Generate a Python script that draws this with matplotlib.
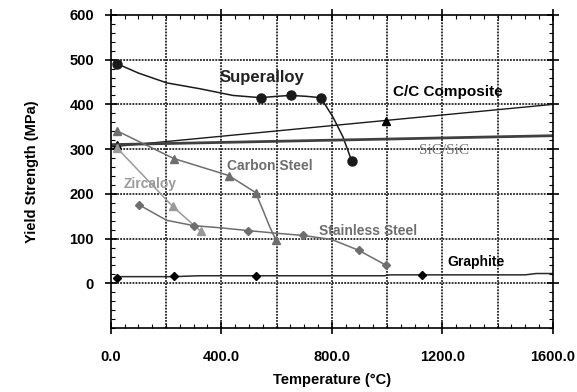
import numpy as np
import matplotlib.pyplot as plt
from matplotlib.ticker import MultipleLocator, FormatStrFormatter

plt.rcParams['font.family'] = ['Liberation Sans', 'DejaVu Sans']

# marker points (deg C, MPa)
sa_x = [22, 542, 651, 760, 872]
sa_y = [491, 415, 420, 415, 274]
# curve
sa_cx = [22, 100, 203, 322, 442, 542, 600, 651, 708, 760, 803, 840, 872]
sa_cy = [491, 470, 448, 435, 420, 415, 418, 420, 418, 415, 373, 328, 274]

cc_x = [0, 1600]
cc_y = [305, 400]
cc_mx = [22, 998]
cc_my = [310, 362]

sic_x = [0, 1600]
sic_y = [310, 330]

cs_x = [22, 228, 427, 524, 597]
cs_y = [341, 279, 241, 203, 98]
cs_cx = [22, 228, 427, 524, 550, 575, 597]
cs_cy = [341, 279, 241, 203, 165, 127, 98]

zr_x = [22, 224, 326]
zr_y = [303, 172, 116]

ss_x = [101, 300, 496, 697, 897, 998]
ss_y = [176, 129, 118, 107, 74, 40]
ss_cx = [101, 202, 300, 400, 496, 600, 697, 800, 897, 998]
ss_cy = [176, 141, 129, 124, 118, 112, 107, 98, 74, 40]

gr_x = [22, 228, 525, 1125]
gr_y = [13, 16, 16, 18]
gr_cx = [22, 228, 320, 525, 990, 1010, 1125, 1500, 1540, 1600]
gr_cy = [15, 15, 17, 17, 17, 19, 19, 19, 22, 22]

fig = plt.figure(figsize=(5.77, 3.92), dpi=100)
ax = fig.add_axes([0.192, 0.163, 0.766, 0.799])

dk = '#1a1a1a'
md = '#6e6e6e'
lt = '#9a9a9a'

ax.plot(sa_cx, sa_cy, color=dk, lw=1.1)
ax.plot(sa_x, sa_y, 'o', color=dk, ms=6.5)

ax.plot(cc_x, cc_y, color=dk, lw=1.0)
ax.plot(cc_mx, cc_my, '^', color='k', ms=5.5)

ax.plot(sic_x, sic_y, color='#404040', lw=2.0)

ax.plot(cs_cx, cs_cy, color=md, lw=1.1)
ax.plot(cs_x, cs_y, '^', color=md, ms=6)

ax.plot(zr_x, zr_y, '-^', color=lt, lw=1.1, ms=6)

ax.plot(ss_cx, ss_cy, color=md, lw=1.1)
ax.plot(ss_x, ss_y, 'D', color=md, ms=4.5)

ax.plot(gr_cx, gr_cy, color='#2a2a2a', lw=1.1)
ax.plot(gr_x, gr_y, 'D', color='k', ms=4.5)

# labels on the curves
ax.text(394, 460, 'Superalloy', fontsize=12, fontweight='bold', color='#222222', va='center')
ax.text(1020, 428, 'C/C Composite', fontsize=11, fontweight='bold', color='k', va='center')
ax.text(1114, 297, 'SiC/SiC', fontsize=11, family='Liberation Serif', color='#707070', va='center')
ax.text(420, 263, 'Carbon Steel', fontsize=10, fontweight='bold', color=md, va='center')
ax.text(47, 223, 'Zircaloy', fontsize=10, fontweight='bold', color=lt, va='center')
ax.text(752, 118, 'Stainless Steel', fontsize=10, fontweight='bold', color=md, va='center')
ax.text(1219, 47, 'Graphite', fontsize=10, fontweight='bold', color='k', va='center')

ax.set_xlim(0, 1600)
ax.set_ylim(-100, 600)
ax.set_xticks([0, 400, 800, 1200, 1600])
ax.xaxis.set_major_formatter(FormatStrFormatter('%.1f'))
ax.xaxis.set_minor_locator(MultipleLocator(50))
ax.set_yticks([0, 100, 200, 300, 400, 500, 600])
ax.yaxis.set_minor_locator(MultipleLocator(20))

for x in range(200, 1600, 200):
    ax.axvline(x, color='#222222', lw=1.3, ls=(0, (1, 0.7)), zorder=0)
for y in range(0, 600, 100):
    ax.axhline(y, color='#222222', lw=1.3, ls=(0, (1, 0.7)), zorder=0)

ax.tick_params(which='major', direction='inout', length=8, width=1.2,
               top=True, right=True, labelsize=10.5, pad=8)
ax.tick_params(which='minor', direction='in', length=3, width=0.8, top=True, right=True)
ax.tick_params(axis='x', which='major', pad=12)
for lab in ax.get_xticklabels() + ax.get_yticklabels():
    lab.set_fontweight('bold')
for s in ax.spines.values():
    s.set_linewidth(1.2)

ax.set_xlabel('Temperature (°C)', fontsize=10.5, fontweight='bold', labelpad=6)
ax.set_ylabel('Yield Strength (MPa)', fontsize=10.5, fontweight='bold', labelpad=22)

plt.savefig('out.png', dpi=100)
